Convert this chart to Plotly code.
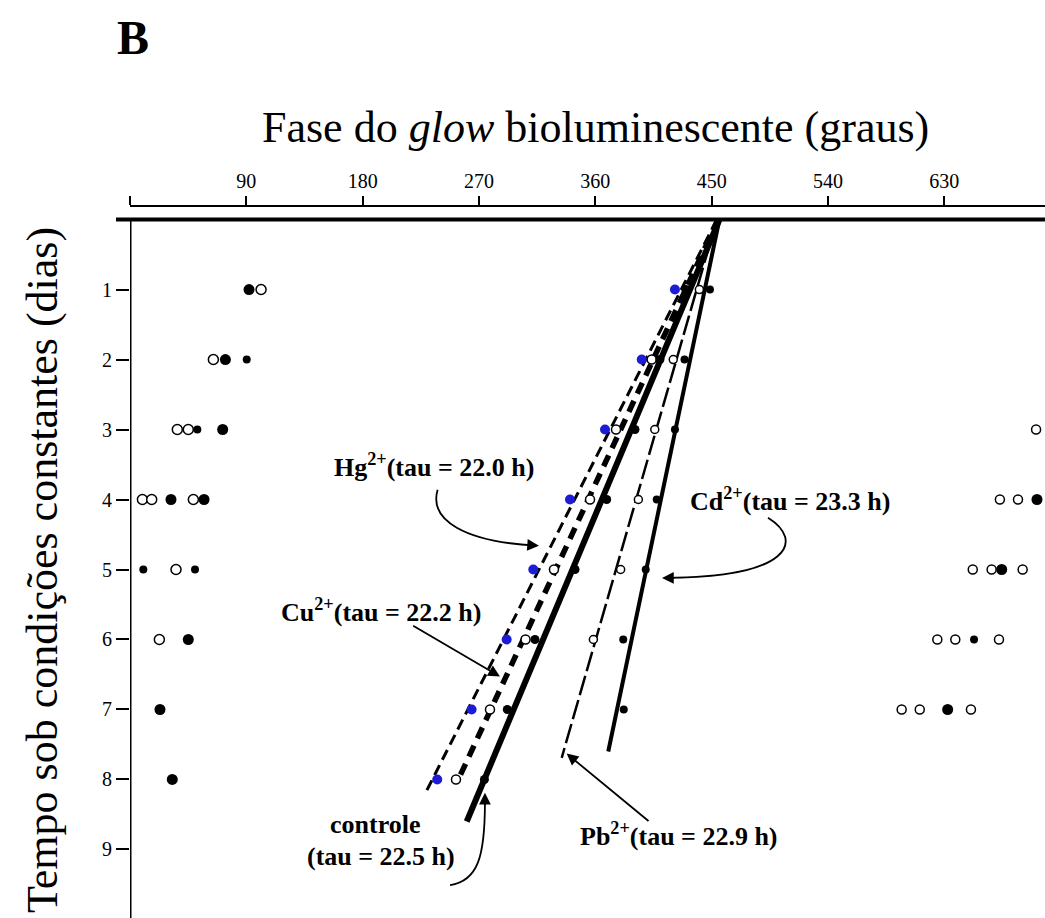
import plotly.graph_objects as go

# ---------------- data ----------------
tick_deg = [0, 90, 180, 270, 360, 450, 540, 630]
tick_labels = ["", "90", "180", "270", "360", "450", "540", "630"]
day_ticks = [1, 2, 3, 4, 5, 6, 7, 8, 9]

# central series (phase in degrees per day)
hg_day = [1, 2, 3, 4, 5, 6, 7, 8]
hg_deg = [421.6, 395.9, 367.5, 340.4, 312.0, 291.4, 264.3, 237.7]
cu_day = [2, 3, 4, 5, 6, 7, 8]
cu_deg = [403.6, 376.0, 355.9, 328.0, 306.0, 278.5, 252.2]
ctrl_day = [1, 2, 3, 4, 5, 6, 7, 8]
ctrl_deg = [430.0, 410.0, 390.7, 368.8, 344.3, 313.3, 291.9, 274.2]
pb_day = [1, 2, 3, 4, 5, 6]
pb_deg = [440.5, 420.3, 406.0, 393.3, 379.6, 358.5]
cd_day = [1, 2, 3, 4, 5, 6, 7]
cd_deg = [448.7, 429.0, 421.6, 407.5, 399.0, 381.6, 382.0]

# regression lines (start / end)
hg_line_deg = [454, 229.5]
hg_line_day = [0, 8.16]
cu_line_deg = [455, 254.0]
cu_line_day = [0, 8.0]
ctrl_line_deg = [456, 260.5]
ctrl_line_day = [0, 8.6]
pb_line_deg = [454, 334.0]
pb_line_day = [0, 7.69]
cd_line_deg = [456, 370.0]
cd_line_day = [0, 7.6]

# other individuals (left cluster)
left_fill_big_deg = [92.1, 73.8, 71.7, 31.7, 57.3, 45.1, 23.2, 32.7]
left_fill_big_day = [1, 2, 3, 4, 4, 6, 7, 8]
left_fill_small_deg = [90.3, 52.1, 10.3, 50.3]
left_fill_small_day = [2, 3, 5, 5]
left_open_deg = [101.4, 64.5, 36.6, 45.1, 9.6, 16.8, 49.0, 35.6, 22.7]
left_open_day = [1, 2, 3, 3, 4, 4, 4, 5, 6]

# other individuals (right cluster)
right_fill_big_deg = [701.7, 674.4, 632.6]
right_fill_big_day = [4, 5, 7]
right_fill_small_deg = [653]
right_fill_small_day = [6]
right_open_deg = [701, 673, 687, 652, 666.6, 690.6, 624.6, 638.5, 672.3, 597, 611, 650.6]
right_open_day = [3, 4, 4, 5, 5, 5, 6, 6, 6, 7, 7, 7]

# ---------------- figure ----------------
SERIF = "Liberation Serif, Times New Roman, serif"
W, H = 1045, 918
L, T = 130, 207
X_MAX = 707.9
Y_TOP, Y_BOT = -0.179, 9.979

fig = go.Figure()

def line(xs, ys, width, dash):
    fig.add_trace(go.Scatter(x=xs, y=ys, mode="lines",
                             line=dict(color="black", width=width, dash=dash),
                             showlegend=False, hoverinfo="skip"))

line(hg_line_deg, hg_line_day, 3, "11px,6px")
line(cu_line_deg, cu_line_day, 5.5, "12px,8px")
line(ctrl_line_deg, ctrl_line_day, 6, "solid")
line(pb_line_deg, pb_line_day, 2.5, "20px,5px")
line(cd_line_deg, cd_line_day, 4, "solid")

def pts(xs, ys, size, fill, outline="black", lw=1.5):
    fig.add_trace(go.Scatter(x=xs, y=ys, mode="markers",
                             marker=dict(size=size, color=fill,
                                         line=dict(color=outline, width=lw)),
                             showlegend=False, hoverinfo="skip"))

pts(left_open_deg, left_open_day, 10, "white")
pts(right_open_deg, right_open_day, 9, "white")
pts(left_fill_big_deg, left_fill_big_day, 11, "black", lw=0)
pts(left_fill_small_deg, left_fill_small_day, 8, "black", lw=0)
pts(right_fill_big_deg, right_fill_big_day, 11, "black", lw=0)
pts(right_fill_small_deg, right_fill_small_day, 8, "black", lw=0)

pts(cu_deg, cu_day, 9, "white")
pts(pb_deg, pb_day, 8, "white")
pts(ctrl_deg, ctrl_day, 9, "black", lw=0)
pts(cd_deg, cd_day, 8, "black", lw=0)
pts(hg_deg, hg_day, 10, "#1c1cd6", outline="#1c1cd6", lw=0)

# frame lines
fig.add_shape(type="line", xref="paper", yref="y", x0=-14 / (W - L), x1=1, y0=0, y1=0,
              line=dict(color="black", width=4))
fig.add_shape(type="line", xref="x", yref="y", x0=0, x1=0, y0=0, y1=Y_BOT,
              line=dict(color="black", width=3))

# curved arrows
curves = [
    "M 238.0,3.86 C 231.0,4.30 259.2,4.60 314.0,4.66",
    "M 493.6,4.26 C 522.2,4.59 510.6,5.12 414.0,5.12",
    "M 247.6,9.51 C 269.2,9.45 274.6,9.10 274.6,8.32",
]
for p in curves:
    fig.add_shape(type="path", xref="x", yref="y", path=p,
                  line=dict(color="black", width=1.8))

def arrow_head(x, y, ax, ay):
    fig.add_annotation(x=x, y=y, ax=ax, ay=ay, text="", showarrow=True,
                       arrowhead=2, arrowsize=1.3, arrowwidth=1.8, arrowcolor="black",
                       standoff=0)

arrow_head(316.4, 4.66, -14, -1)
arrow_head(411.6, 5.12, 14, 0)
arrow_head(274.6, 8.19, 0, 14)

# straight arrows
def straight(x, y, ax, ay):
    fig.add_annotation(x=x, y=y, ax=ax, ay=ay, axref="x", ayref="y", text="",
                       showarrow=True, arrowhead=2, arrowsize=1.3, arrowwidth=1.8,
                       arrowcolor="black", standoff=0)

straight(286.2, 6.53, 217.9, 5.79)
straight(337.8, 7.63, 402.3, 8.61)

# labels
labels = [
    ("<b>Hg<sup>2+</sup>(tau = 22.0 h)</b>", 235.5, 3.52),
    ("<b>Cd<sup>2+</sup>(tau = 23.3 h)</b>", 510.6, 4.0),
    ("<b>Cu<sup>2+</sup>(tau = 22.2 h)</b>", 194.2, 5.58),
    ("<b>controle</b>", 190.3, 8.65),
    ("<b>(tau = 22.5 h)</b>", 194.0, 9.10),
    ("<b>Pb<sup>2+</sup>(tau = 22.9 h)</b>", 424.7, 8.79),
]
for txt, x, y in labels:
    fig.add_annotation(x=x, y=y, text=txt, showarrow=False,
                       font=dict(family=SERIF, size=26, color="black"))

PW, PH = W - L, H - T
fig.add_annotation(xref="paper", yref="paper", x=(595 - L) / PW, y=(H - 128) / PH,
                   xanchor="center", yanchor="middle",
                   text="Fase do <i>glow</i> bioluminescente (graus)", showarrow=False,
                   font=dict(family=SERIF, size=44, color="black"))
fig.add_annotation(xref="paper", yref="paper", x=(42 - L) / PW, y=(H - 570) / PH,
                   xanchor="center", yanchor="middle",
                   text="Tempo sob condições constantes (dias)", showarrow=False,
                   textangle=-90, font=dict(family=SERIF, size=44, color="black"))
fig.add_annotation(xref="paper", yref="paper", x=(133 - L) / PW, y=(H - 38) / PH,
                   xanchor="center", yanchor="middle",
                   text="<b>B</b>", showarrow=False,
                   font=dict(family=SERIF, size=48, color="black"))

fig.update_layout(
    width=W, height=H,
    margin=dict(l=L, r=0, t=T, b=0, pad=0),
    paper_bgcolor="white", plot_bgcolor="white",
    showlegend=False,
    xaxis=dict(side="top", range=[0, X_MAX], tickvals=tick_deg, ticktext=tick_labels,
               showline=True, linecolor="black", linewidth=2, ticks="outside",
               ticklen=9, tickwidth=2, tickcolor="black", showgrid=False, zeroline=False,
               tickfont=dict(family=SERIF, size=20, color="black")),
    yaxis=dict(range=[Y_BOT, Y_TOP], tickvals=day_ticks, ticks="outside", ticklen=13,
               tickwidth=2, tickcolor="black", showline=False, showgrid=False,
               zeroline=False, tickfont=dict(family=SERIF, size=20, color="black")),
)

fig.write_html("out.html")
